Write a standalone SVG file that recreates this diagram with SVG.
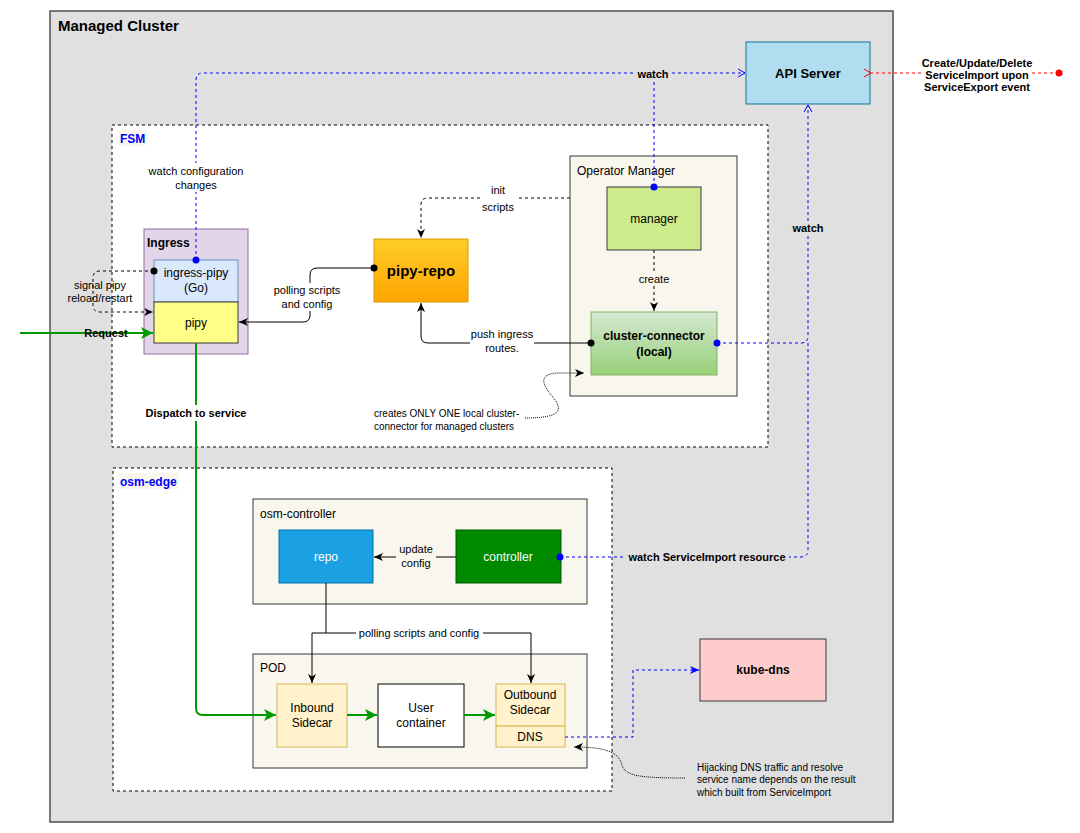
<svg xmlns="http://www.w3.org/2000/svg" width="1080" height="833" viewBox="0 0 1080 833">
<style>
text{font-family:"Liberation Sans",Arial,sans-serif;fill:#000}
.t12{font-size:12px}
.t11{font-size:11px}
.t10{font-size:10px}
.b{font-weight:bold}
.w{fill:#fff}
.mid{text-anchor:middle}
.blue{fill:none;stroke:#0000ff;stroke-width:1;stroke-dasharray:3 3}
.blk{fill:none;stroke:#000;stroke-width:1}
.dash{stroke-dasharray:3 3}
.grn{fill:none;stroke:#009900;stroke-width:2}
.dot{fill:none;stroke:#000;stroke-width:1;stroke-dasharray:1 1}
</style>
<defs>
<linearGradient id="gOrange" x1="0" y1="0" x2="0" y2="1"><stop offset="0" stop-color="#ffcd28"/><stop offset="1" stop-color="#ffa500"/></linearGradient>
<linearGradient id="gGreen" x1="0" y1="0" x2="0" y2="1"><stop offset="0" stop-color="#d5e8d4"/><stop offset="1" stop-color="#97d077"/></linearGradient>
<marker id="aBlk" markerUnits="userSpaceOnUse" markerWidth="10" markerHeight="10" refX="9" refY="5" orient="auto"><path d="M0,1 L9,5 L0,9 L2.5,5 Z" fill="#000"/></marker>
<marker id="aGrn" markerUnits="userSpaceOnUse" markerWidth="14" markerHeight="14" refX="12" refY="7" orient="auto"><path d="M0,1 L12,7 L0,13 L3,7 Z" fill="#009900"/></marker>
<marker id="aBlue" markerUnits="userSpaceOnUse" markerWidth="10" markerHeight="10" refX="9" refY="5" orient="auto"><path d="M0,1 L9,5 L0,9 L2.5,5 Z" fill="#0000ff"/></marker>
<marker id="oBlue" markerUnits="userSpaceOnUse" markerWidth="10" markerHeight="10" refX="8" refY="5" orient="auto"><path d="M1,1 L8,5 L1,9" fill="none" stroke="#0000ff" stroke-width="1"/></marker>
<marker id="oRed" markerUnits="userSpaceOnUse" markerWidth="10" markerHeight="10" refX="1" refY="5" orient="auto"><path d="M8,1 L1,5 L8,9" fill="none" stroke="#ff0000" stroke-width="1"/></marker>
</defs>

<g id="managed-cluster">
<rect x="50" y="11" width="843" height="811" fill="#e0e0e0" stroke="#4d4d4d" stroke-width="1.5"/>
<text x="58" y="31" font-size="15" class="b">Managed Cluster</text>
</g>

<g id="fsm">
<rect x="112" y="125" width="656" height="322" fill="#fff" stroke="#000" stroke-dasharray="3 3"/>
<rect x="119" y="130" width="27" height="16" fill="#f9f7ed"/>
<text x="120" y="143" class="t12 b" fill="#0000ff" style="fill:#0000ff">FSM</text>
</g>

<g id="osm-edge">
<rect x="113" y="468" width="499" height="323" fill="#fff" stroke="#000" stroke-dasharray="3 3"/>
<rect x="119" y="473" width="60" height="16" fill="#f9f7ed"/>
<text x="120" y="486" class="t12 b" style="fill:#0000ff">osm-edge</text>
</g>

<g id="api-server">
<rect x="746" y="42" width="124" height="62" fill="#b1ddf0" stroke="#10739e"/>
<text x="808" y="78" class="mid b" font-size="13">API Server</text>
</g>

<g id="ingress">
<rect x="144" y="229" width="104" height="125" fill="#e1d5e7" stroke="#9673a6"/>
<text x="147" y="247" class="t12 b">Ingress</text>
</g>
<g id="ingress-pipy">
<rect x="154" y="260" width="84" height="42" fill="#dae8fc" stroke="#6c8ebf"/>
<text x="196" y="277" class="t12 mid">ingress-pipy</text>
<text x="196" y="292" class="t12 mid">(Go)</text>
</g>
<g id="pipy">
<rect x="154" y="302" width="84" height="41" fill="#ffff88" stroke="#36393d"/>
<text x="196" y="327" class="t12 mid">pipy</text>
</g>

<g id="pipy-repo">
<rect x="374" y="239" width="94" height="63" fill="url(#gOrange)" stroke="#d79b00"/>
<text x="421" y="276" class="mid b" font-size="15">pipy-repo</text>
</g>

<g id="operator-manager">
<rect x="570" y="156" width="167" height="240" fill="#f9f7ed" stroke="#36393d"/>
<text x="577" y="175" class="t12">Operator Manager</text>
</g>
<g id="manager">
<rect x="607" y="187" width="94" height="63" fill="#cdeb8b" stroke="#36393d"/>
<text x="654" y="223" class="t12 mid">manager</text>
</g>
<g id="cluster-connector">
<rect x="591" y="312" width="126" height="63" fill="url(#gGreen)" stroke="#82b366"/>
<text x="654" y="340" class="t12 mid b">cluster-connector</text>
<text x="654" y="356" class="t12 mid b">(local)</text>
</g>

<g id="osm-controller">
<rect x="253" y="499" width="334" height="105" fill="#f9f7ed" stroke="#36393d"/>
<text x="260" y="518" class="t12">osm-controller</text>
</g>
<g id="repo">
<rect x="279" y="530" width="94" height="53" fill="#1ba1e2" stroke="#006eaf"/>
<text x="326" y="561" class="t12 mid w">repo</text>
</g>
<g id="controller">
<rect x="456" y="530" width="105" height="53" fill="#008a00" stroke="#005700"/>
<text x="508" y="561" class="t12 mid w">controller</text>
</g>

<g id="pod">
<rect x="253" y="654" width="334" height="114" fill="#f9f7ed" stroke="#36393d"/>
<text x="260" y="672" class="t12">POD</text>
</g>
<g id="inbound-sidecar">
<rect x="277" y="684" width="70" height="63" fill="#fff2cc" stroke="#d6b656"/>
<text x="312" y="712" class="t12 mid">Inbound</text>
<text x="312" y="727" class="t12 mid">Sidecar</text>
</g>
<g id="user-container">
<rect x="378" y="684" width="86" height="63" fill="#fff" stroke="#000"/>
<text x="421" y="712" class="t12 mid">User</text>
<text x="421" y="727" class="t12 mid">container</text>
</g>
<g id="outbound-sidecar">
<rect x="496" y="684" width="69" height="42" fill="#fff2cc" stroke="#d6b656"/>
<text x="530" y="699" class="t12 mid">Outbound</text>
<text x="530" y="714" class="t12 mid">Sidecar</text>
</g>
<g id="dns">
<rect x="496" y="726" width="69" height="21" fill="#fff2cc" stroke="#d6b656"/>
<text x="530" y="741" class="t12 mid">DNS</text>
</g>

<g id="kube-dns">
<rect x="700" y="639" width="126" height="62" fill="#ffcccc" stroke="#36393d"/>
<text x="763" y="674" class="t12 mid b">kube-dns</text>
</g>

<g id="connectors">
<!-- watch from ingress-pipy & manager to API server -->
<path class="blue" d="M196,260 V80 Q196,73 203,73 H745" marker-end="url(#oBlue)"/>
<path class="blue" d="M654,187 V73"/>
<circle cx="196" cy="260" r="3.5" fill="#0000ff"/>
<circle cx="654" cy="187" r="3.5" fill="#0000ff"/>
<rect x="635" y="67" width="36" height="14" fill="#e0e0e0"/>
<text x="653" y="78" class="t11 mid b">watch</text>
<rect x="150" y="163" width="93" height="29" fill="#fff"/>
<text x="196" y="175" class="t11 mid">watch configuration</text>
<text x="196" y="189" class="t11 mid">changes</text>

<!-- red create/update/delete -->
<path d="M1059,73 H871" fill="none" stroke="#ff0000" stroke-dasharray="3 3" marker-end="url(#oRed)"/>
<circle cx="1059" cy="73" r="3.5" fill="#ff0000"/>
<rect x="923" y="56" width="108" height="38" fill="#fff"/>
<text x="977" y="67" class="t11 mid b">Create/Update/Delete</text>
<text x="977" y="79" class="t11 mid b">ServiceImport upon</text>
<text x="977" y="91" class="t11 mid b">ServiceExport event</text>

<!-- cluster-connector & controller watch -->
<path class="blue" d="M717,343 H801 Q808,343 808,336 V105" marker-end="url(#oBlue)"/>
<path class="blue" d="M560,557 H801 Q808,557 808,550 V343"/>
<circle cx="717" cy="343" r="3.5" fill="#0000ff"/>
<circle cx="560" cy="557" r="3.5" fill="#0000ff"/>
<rect x="790" y="221" width="36" height="14" fill="#e0e0e0"/>
<text x="808" y="232" class="t11 mid b">watch</text>
<rect x="625" y="550" width="164" height="14" fill="#e0e0e0"/>
<text x="707" y="561" class="t11 mid b">watch ServiceImport resource</text>

<!-- signal pipy reload/restart -->
<path class="blk dash" d="M154,271 H100 Q93,271 93,278 V305 Q93,312 100,312 H153" marker-end="url(#aBlk)"/>
<circle cx="154" cy="271" r="3.5" fill="#000"/>
<text x="100" y="289" class="t11 mid">signal pipy</text>
<text x="100" y="302" class="t11 mid">reload/restart</text>

<!-- Request -->
<path class="grn" d="M20,333 H153" marker-end="url(#aGrn)"/>
<text x="106" y="337" class="t11 mid b">Request</text>

<!-- Dispatch to service -->
<path class="grn" d="M196,343 V708 Q196,715 203,715 H276" marker-end="url(#aGrn)"/>
<rect x="140" y="405" width="112" height="16" fill="#fff"/>
<text x="196" y="417" class="t11 mid b">Dispatch to service</text>

<!-- polling scripts and config (ingress) -->
<path class="blk" d="M374,268 H317 Q310,268 310,275 V315 Q310,322 303,322 H239" marker-end="url(#aBlk)"/>
<circle cx="374" cy="268" r="3.5" fill="#000"/>
<rect x="272" y="283" width="70" height="28" fill="#fff"/>
<text x="307" y="294" class="t11 mid">polling scripts</text>
<text x="307" y="308" class="t11 mid">and config</text>

<!-- init scripts -->
<path class="blk dash" d="M570,198 H428 Q421,198 421,205 V238" marker-end="url(#aBlk)"/>
<rect x="482" y="183" width="34" height="30" fill="#fff"/>
<text x="498" y="194" class="t11 mid">init</text>
<text x="498" y="211" class="t11 mid">scripts</text>

<!-- push ingress routes -->
<path class="blk" d="M591,343 H428 Q421,343 421,336 V303" marker-end="url(#aBlk)"/>
<circle cx="591" cy="343" r="3.5" fill="#000"/>
<rect x="470" y="326" width="64" height="30" fill="#fff"/>
<text x="502" y="338" class="t11 mid">push ingress</text>
<text x="502" y="352" class="t11 mid">routes.</text>

<!-- create -->
<path class="blk dash" d="M654,250 V311" marker-end="url(#aBlk)"/>
<rect x="636" y="272" width="36" height="14" fill="#f9f7ed"/>
<text x="654" y="283" class="t11 mid">create</text>

<!-- note: creates ONLY ONE -->
<path class="dot" d="M525,418 C565,418 562,408 552,396 C540,382 540,373 560,373 H584" marker-end="url(#aBlk)"/>
<text x="374" y="417" class="t10">creates ONLY ONE local cluster-</text>
<text x="374" y="430" class="t10">connector for managed clusters</text>

<!-- update config -->
<path class="blk" d="M456,557 H374" marker-end="url(#aBlk)"/>
<rect x="396" y="543" width="40" height="28" fill="#f9f7ed"/>
<text x="416" y="553" class="t11 mid">update</text>
<text x="416" y="567" class="t11 mid">config</text>

<!-- polling scripts and config (pod) -->
<path class="blk" d="M326,583 V633 H312 V683" marker-end="url(#aBlk)"/>
<path class="blk" d="M326,633 H531 V683" marker-end="url(#aBlk)"/>
<rect x="356" y="626" width="127" height="14" fill="#fff"/>
<text x="419" y="637" class="t11 mid">polling scripts and config</text>

<!-- pod internal green -->
<path class="grn" d="M347,715 H377" marker-end="url(#aGrn)"/>
<path class="grn" d="M464,715 H495" marker-end="url(#aGrn)"/>

<!-- DNS to kube-dns -->
<path class="blue" d="M565,737 H633 V670 H699" marker-end="url(#aBlue)"/>

<!-- Hijacking note -->
<path class="dot" d="M685,778 C640,778 625,776 622,765 C619,752 605,747 574,747" marker-end="url(#aBlk)"/>
<text x="697" y="771" class="t10">Hijacking DNS traffic and resolve</text>
<text x="697" y="783" class="t10">service name depends on the result</text>
<text x="697" y="796" class="t10">which built from ServiceImport</text>
</g>
</svg>
